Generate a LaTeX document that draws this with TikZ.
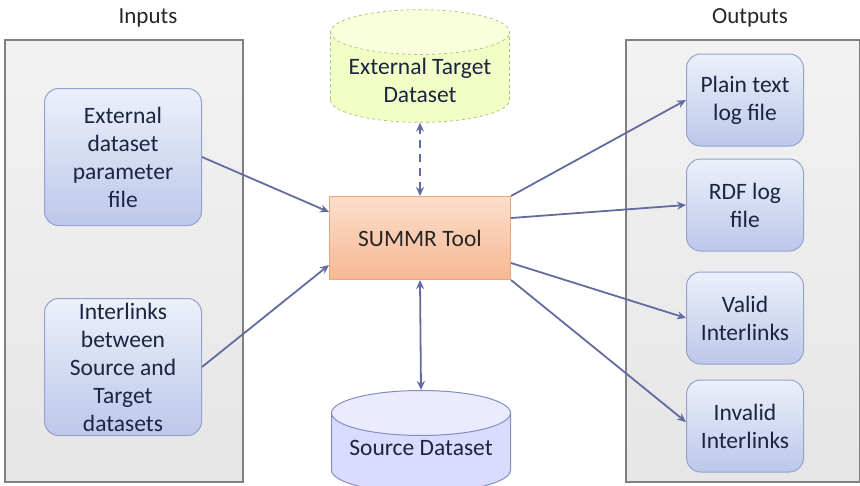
\documentclass[tikz,border=0pt]{standalone}
\usepackage{fontspec}
\setmainfont{Carlito}
\usepackage{xcolor}
\usetikzlibrary{arrows.meta,positioning,shapes.geometric}
\definecolor{inktext}{RGB}{27,36,64}
\definecolor{linkblue}{RGB}{98,108,160}
\definecolor{panelgray}{RGB}{128,128,128}
\definecolor{boxedge}{RGB}{150,162,206}
\definecolor{boxtop}{RGB}{236,240,250}
\definecolor{boxbottom}{RGB}{188,200,234}
\definecolor{tooledge}{RGB}{233,165,127}
\definecolor{tooltop}{RGB}{252,222,204}
\definecolor{toolbottom}{RGB}{246,184,146}
\definecolor{targetedge}{RGB}{170,190,120}
\definecolor{sourceedge}{RGB}{128,142,192}

\begin{document}
\begin{tikzpicture}[
    x=1pt, y=-1pt,
    font=\fontsize{23.5}{28}\selectfont,
    panel/.style={draw=panelgray, line width=1.2pt, top color=gray!10, bottom color=gray!20, minimum width=238pt, minimum height=442pt},
    title/.style={font=\fontsize{23}{26}\selectfont, text=black!85},
    io/.style={draw=boxedge, line width=1pt, rounded corners=14pt, top color=boxtop, bottom color=boxbottom, text=inktext, align=center, minimum width=157pt, minimum height=137pt},
    outbox/.style={io, minimum width=117pt, minimum height=92pt},
    tool/.style={draw=tooledge, line width=1pt, top color=tooltop, bottom color=toolbottom, text=black!85, align=center, minimum width=181pt, minimum height=83pt},
    store/.style={draw, cylinder, shape border rotate=90, aspect=0.3, anchor=shape center, align=center, line width=1pt, cylinder uses custom fill, minimum width=179pt, minimum height=102pt},
    flow/.style={-{Stealth[length=9pt, width=8pt]}, line width=1.8pt, draw=linkblue},
    both/.style={{Stealth[length=9pt, width=8pt]}-{Stealth[length=9pt, width=8pt]}, line width=1.8pt, draw=linkblue}
]
\useasboundingbox (0,0) rectangle (860,485);

\node[panel] (inpanel) at (124,261) {};
\node[panel, minimum width=234pt] (outpanel) at (743,261) {};
\node[title] (inlbl) at (148,18) {Inputs};
\node[title] (outlbl) at (750,18) {Outputs};

\node[io] (param) at (123,157) {External\\dataset\\parameter\\file};
\node[io] (links) at (123,367) {Interlinks\\between\\Source and\\Target\\datasets};

\node[tool] (summr) at (420,238) {SUMMR Tool};
\node[store, draw=targetedge, line width=0.7pt, dashed, cylinder body fill=green!25!yellow!22, cylinder end fill=green!18!yellow!14, text=inktext] (target) at (420,66) {External Target\\Dataset};
\node[store, anchor=north, draw=sourceedge, text depth=16pt, cylinder body fill=blue!14, cylinder end fill=blue!8, text=inktext] (source) at (421,390) {Source Dataset};

\node[outbox] (plain) at (745,100) {Plain text\\log file};
\node[outbox] (rdf) at (745,205) {RDF log\\file};
\node[outbox] (valid) at (745,318) {Valid\\Interlinks};
\node[outbox] (invalid) at (745,426) {Invalid\\Interlinks};

\draw[flow] (param.east) -- ([yshift=26pt]summr.west);
\draw[flow] (links.east) -- ([yshift=-27pt]summr.west);
\draw[both, dash pattern=on 8pt off 6pt] (summr.north) -- (target.south);
\draw[both] (summr.south) -- (source.north);
\draw[flow] (summr.north east) -- (plain.west);
\draw[flow] ([yshift=20pt]summr.east) -- (rdf.west);
\draw[flow] ([yshift=-25pt]summr.east) -- (valid.west);
\draw[flow] (summr.south east) -- ([yshift=4pt]invalid.west);
\end{tikzpicture}
\end{document}
